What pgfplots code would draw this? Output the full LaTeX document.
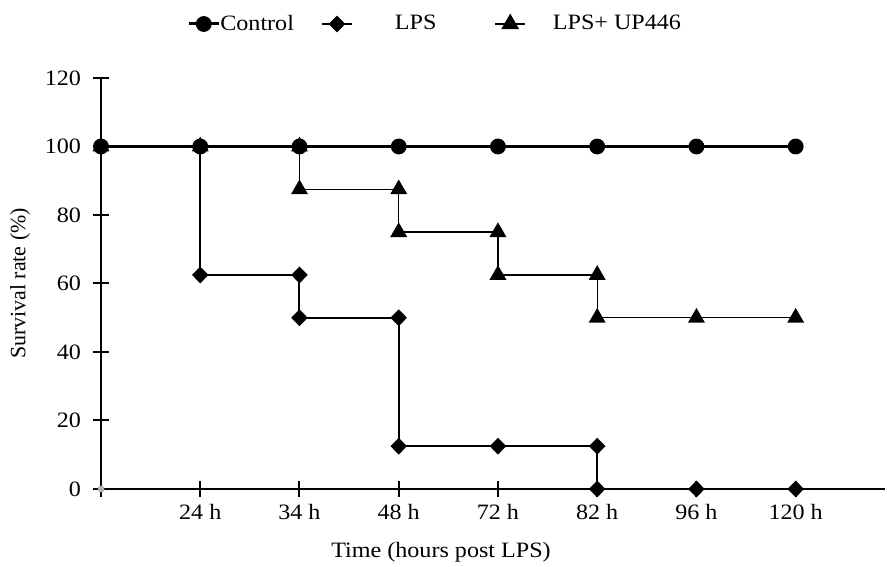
\documentclass[border=0pt]{standalone}
\usepackage{fontspec}
\setmainfont{Liberation Serif}[FakeStretch=1.1]
\newfontfamily\plainfont{Liberation Serif}
\usepackage{pgfplots}
\pgfplotsset{compat=1.18}

\begin{document}
\begin{tikzpicture}
\begin{axis}[
  scale only axis,
  width=392bp, height=205.5bp,
  at={(0,0)}, anchor=south west,
  xmin=0, xmax=7.9,
  ymin=0, ymax=120,
  axis lines=left,
  axis line style={-, line width=1bp, black},
  xtick={0,...,7},
  xticklabels={,24 h,34 h,48 h,72 h,82 h,96 h,120 h},
  ytick={0,20,...,120},
  tick align=center,
  major tick length=8bp,
  tick style={line width=1bp, black},
  /pgf/number format/assume math mode=true,
  tick label style={font=\fontsize{11}{13}\selectfont, black},
  yticklabel style={xshift=-2.5bp},
  xlabel={Time (hours post LPS)},
  xlabel style={at={(rel axis cs:0.4337,0)}, anchor=center, yshift=-31.5bp, font=\fontsize{11}{13}\selectfont},
  ylabel={Survival rate (\%)},
  ylabel style={at={(rel axis cs:0,0.5)}, anchor=center, yshift=40.5bp, font=\plainfont\fontsize{11}{13}\selectfont},
  legend columns=3,
  legend style={at={(0.425,1)}, anchor=center, yshift=27bp, draw=none, fill=none,
    font=\fontsize{11}{13}\selectfont,
    nodes={inner xsep=0pt, inner ysep=1pt}, column sep=0pt},
  legend image code/.code={\draw[mark repeat=2, mark phase=2, #1] plot coordinates {(0bp,0bp) (7.5bp,0bp) (15bp,0bp)};},
]
  \addlegendimage{black, line width=1.5bp, mark=*, mark size=3.2bp}
  \addlegendentry{Control\rule{13.5bp}{0pt}}
  \addlegendimage{black, line width=1bp, mark=diamond*, mark size=3.5bp, mark options={xscale=1.3}}
  \addlegendentry{\rule{21bp}{0pt}LPS\rule{29bp}{0pt}}
  \addlegendimage{black, line width=0.7bp, mark=triangle*, mark size=4.5bp}
  \addlegendentry{\rule{13.5bp}{0pt}LPS+ UP446}

  % LPS + UP446
  \addplot[black, line width=0.7bp, mark=triangle*, mark size=4.2bp, forget plot]
  coordinates {(0,100)(1,100)(2,100)(2,87.5)(3,87.5)(3,75)(4,75)(4,62.5)(5,62.5)(5,50)(6,50)(7,50)};

  % LPS
  \addplot[black, line width=1bp, mark=diamond*, mark size=3.5bp, mark options={xscale=1.3}, forget plot]
  coordinates {(0,100)(1,100)(1,62.5)(2,62.5)(2,50)(3,50)(3,12.5)(4,12.5)(5,12.5)(5,0)(6,0)(7,0)};

  % Control
  \addplot[black, line width=1.5bp, mark=*, mark size=3.2bp, forget plot]
  coordinates {(0,100)(1,100)(2,100)(3,100)(4,100)(5,100)(6,100)(7,100)};

  % grey dot at the origin
  \addplot[only marks, mark=*, gray!60, mark size=1.5bp, forget plot]
  coordinates {(0,0)};
\end{axis}
\pgfresetboundingbox
\path[use as bounding box] (-50.5bp,-39bp) rectangle (393bp,244.5bp);
\end{tikzpicture}
\end{document}
